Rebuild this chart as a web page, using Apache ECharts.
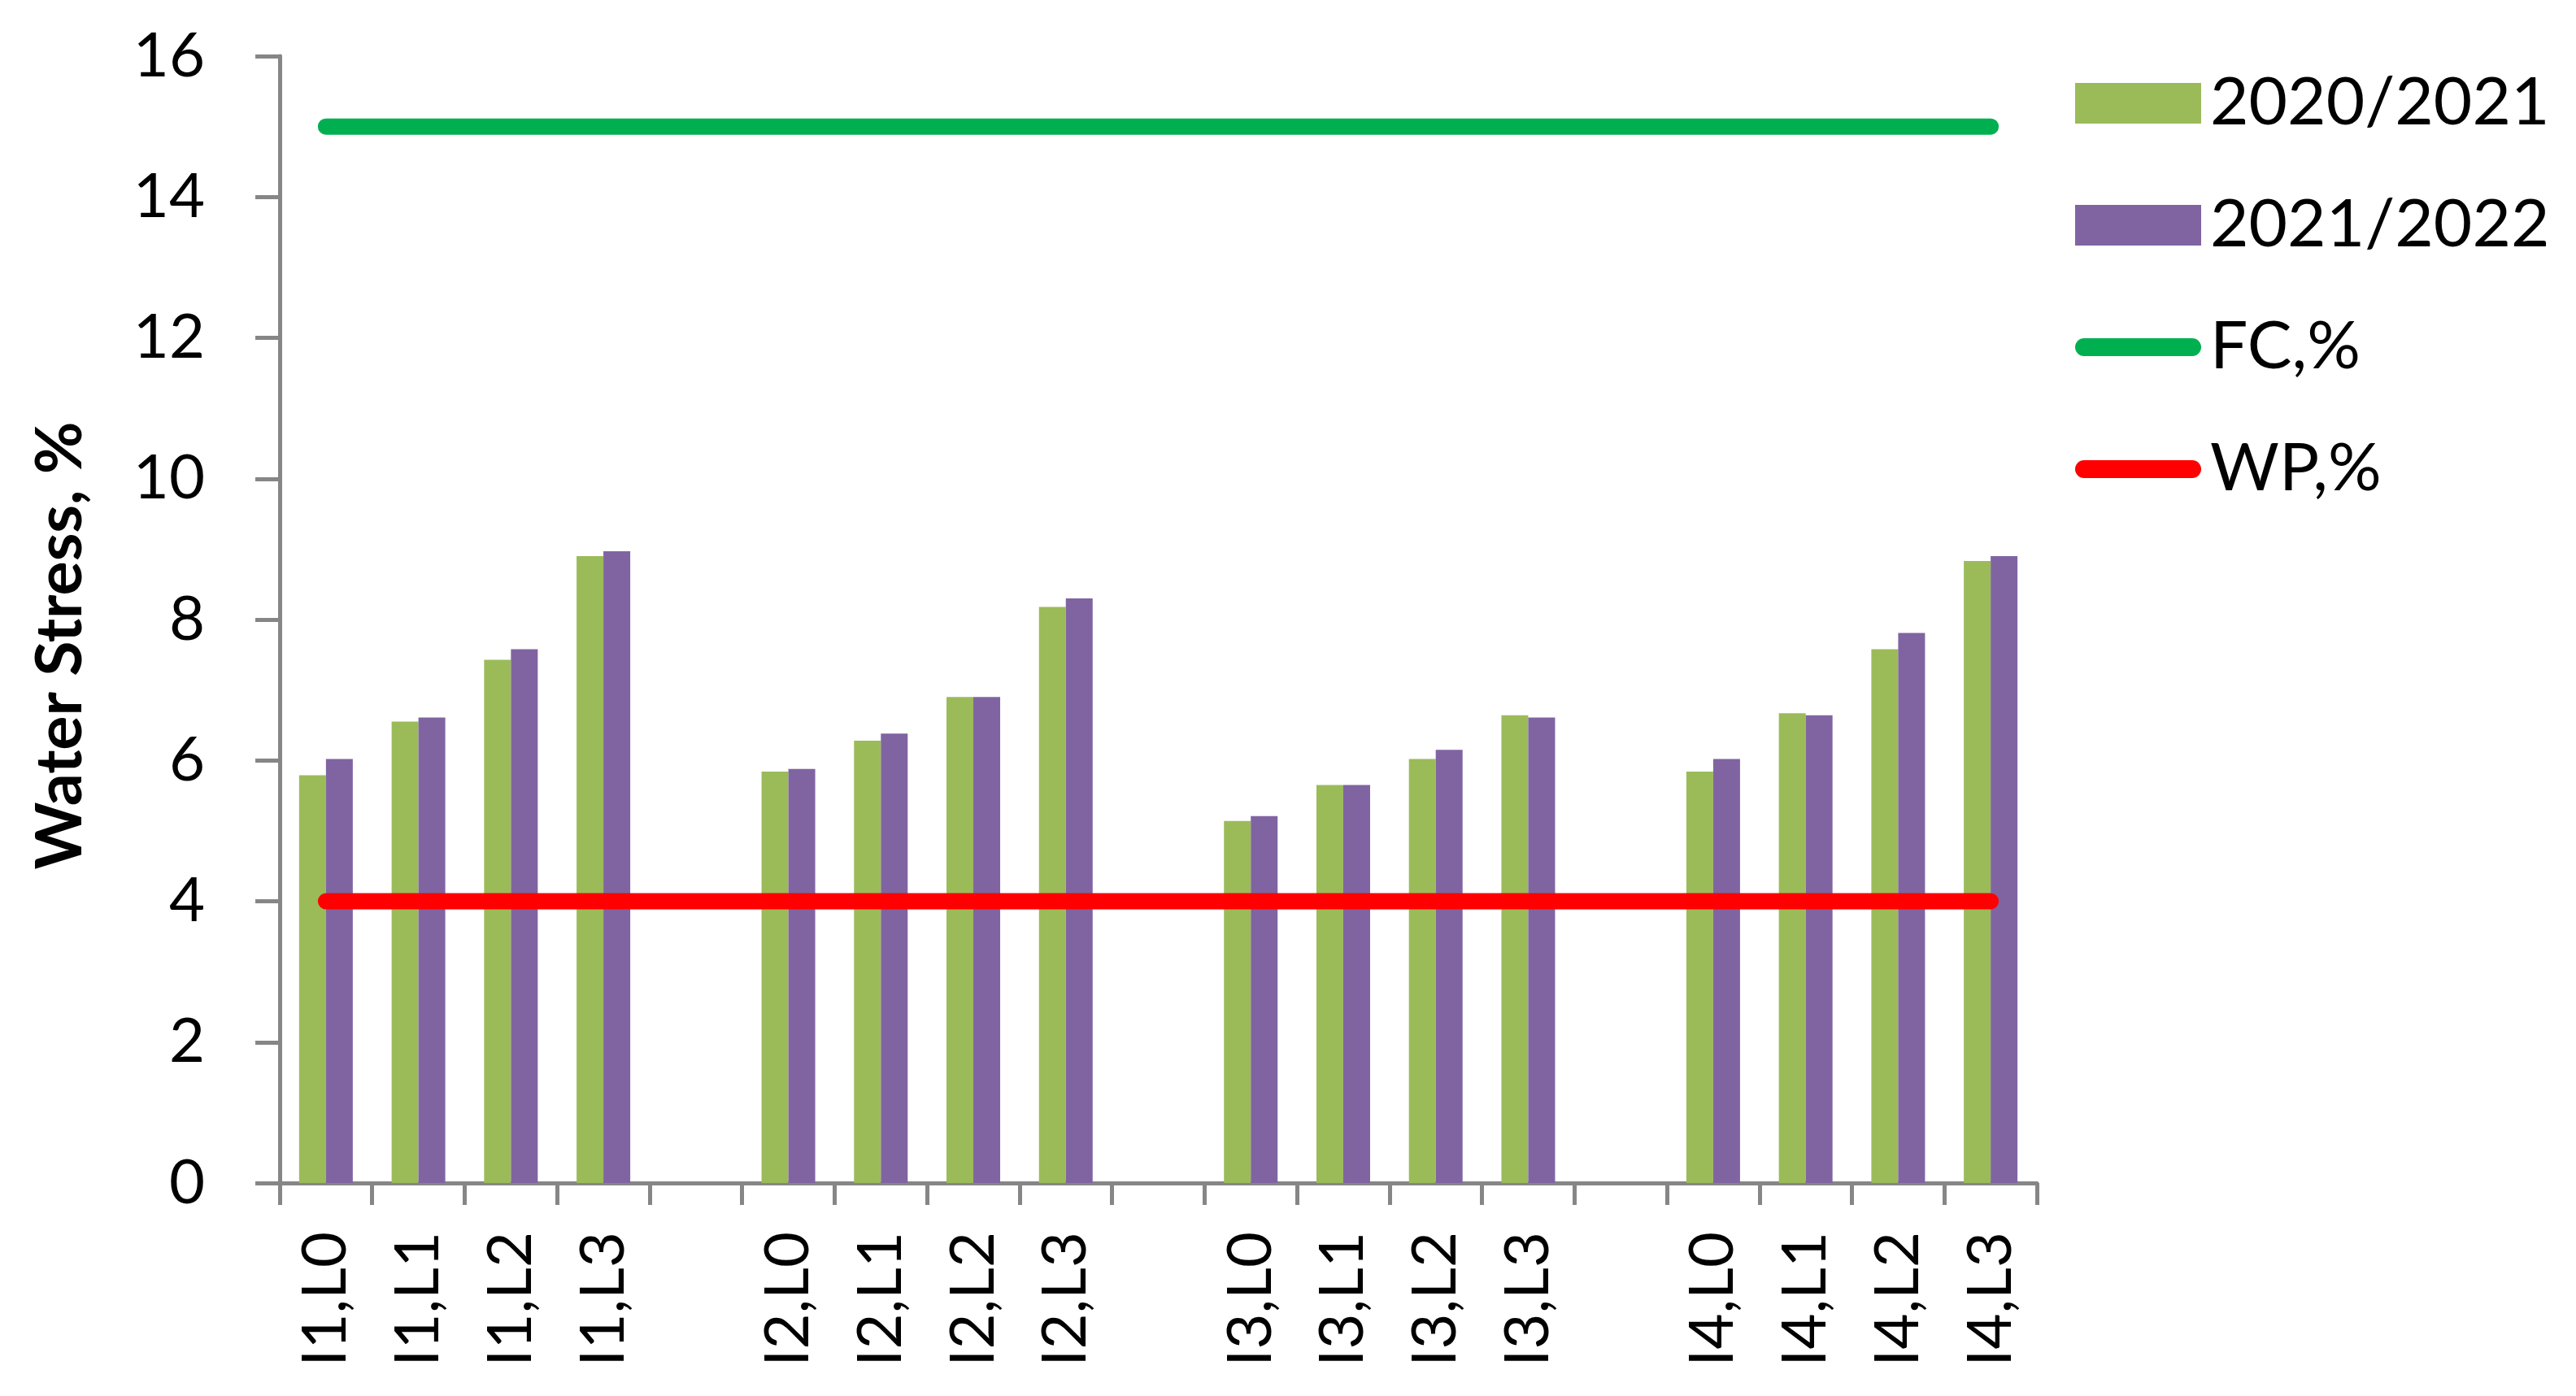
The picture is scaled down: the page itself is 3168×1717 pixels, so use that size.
<!DOCTYPE html>
<html>
<head>
<meta charset="utf-8">
<script src="https://cdn.jsdelivr.net/npm/echarts@6/dist/echarts.min.js"></script>
<style>
    html,body{margin:0;padding:0;background:#fff;}
    #chart{width:3168px;height:1717px;}
</style>
</head>
<body>
<div id="chart"></div>
<script>
// categories, blanks separate the irrigation groups
var categories = ['I1,L0','I1,L1','I1,L2','I1,L3',' ',
                  'I2,L0','I2,L1','I2,L2','I2,L3','  ',
                  'I3,L0','I3,L1','I3,L2','I3,L3','   ',
                  'I4,L0','I4,L1','I4,L2','I4,L3']
var season1 = [5.79, 6.55, 7.43, 8.90, null, 5.84, 6.28, 6.90, 8.18, null, 5.14, 5.65, 6.02, 6.64, null, 5.84, 6.67, 7.58, 8.83]
var season2 = [6.02, 6.61, 7.58, 8.97, null, 5.88, 6.38, 6.90, 8.30, null, 5.21, 5.65, 6.15, 6.61, null, 6.02, 6.64, 7.81, 8.90]
var fc = [15,15,15,15,15,15,15,15,15,15,15,15,15,15,15,15,15,15,15]
var wp = [4,4,4,4,4,4,4,4,4,4,4,4,4,4,4,4,4,4,4]
var yTicks = [0,2,4,6,8,10,12,14,16]

var lineIcon = 'path://M11,0 H144 A11,11 0 0 1 144,22 H11 A11,11 0 0 1 11,0 Z'
var axisColor = '#868686'
var font = 'Lato'

var chart = echarts.init(document.getElementById('chart'))
var option = {
    animation: false,
    textStyle: {fontFamily: font},
    grid: {left: 344, top: 69, width: 2161, height: 1386, containLabel: false},
    legend: {
        orient: 'vertical',
        left: 2547,
        top: 81,
        itemWidth: 155,
        itemHeight: 50,
        itemGap: 68,
        textStyle: {fontSize: 82, color: '#000', fontFamily: font, padding: [0, 0, 0, 6]},
        data: [
            {name: '2020/2021', icon: 'rect'},
            {name: '2021/2022', icon: 'rect'},
            {name: 'FC,%', icon: lineIcon},
            {name: 'WP,%', icon: lineIcon}
        ]
    },
    xAxis: {
        type: 'category',
        data: categories,
        boundaryGap: true,
        axisLine: {lineStyle: {color: axisColor, width: 5}},
        axisTick: {show: true, length: 27, lineStyle: {color: axisColor, width: 5}},
        axisLabel: {rotate: 90, margin: 60, fontSize: 76, color: '#000', fontFamily: font, interval: 0},
        splitLine: {show: false}
    },
    yAxis: {
        type: 'value',
        min: yTicks[0],
        max: yTicks[yTicks.length - 1],
        interval: 2,
        name: 'Water Stress, %',
        nameLocation: 'middle',
        nameRotate: 90,
        nameGap: 230,
        nameTextStyle: {fontSize: 79, fontWeight: 'bold', color: '#000', fontFamily: font, padding: [0, 64, 0, 0]},
        axisLine: {show: true, lineStyle: {color: axisColor, width: 5}},
        axisTick: {show: true, length: 30, lineStyle: {color: axisColor, width: 5}},
        axisLabel: {margin: 92, fontSize: 76, color: '#000', fontFamily: font},
        splitLine: {show: false}
    },
    series: [
        {name: '2020/2021', type: 'bar', data: season1, barWidth: 33, barGap: '0%',
         itemStyle: {color: '#9BBB59'}},
        {name: '2021/2022', type: 'bar', data: season2, barWidth: 33,
         itemStyle: {color: '#8064A2'}},
        {name: 'FC,%', type: 'line', data: fc, symbol: 'none',
         itemStyle: {color: '#00B050'},
         lineStyle: {color: '#00B050', width: 20, cap: 'round'}},
        {name: 'WP,%', type: 'line', data: wp, symbol: 'none',
         itemStyle: {color: '#FF0000'},
         lineStyle: {color: '#FF0000', width: 20, cap: 'round'}}
    ]
}
chart.setOption(option)
</script>
</body>
</html>
